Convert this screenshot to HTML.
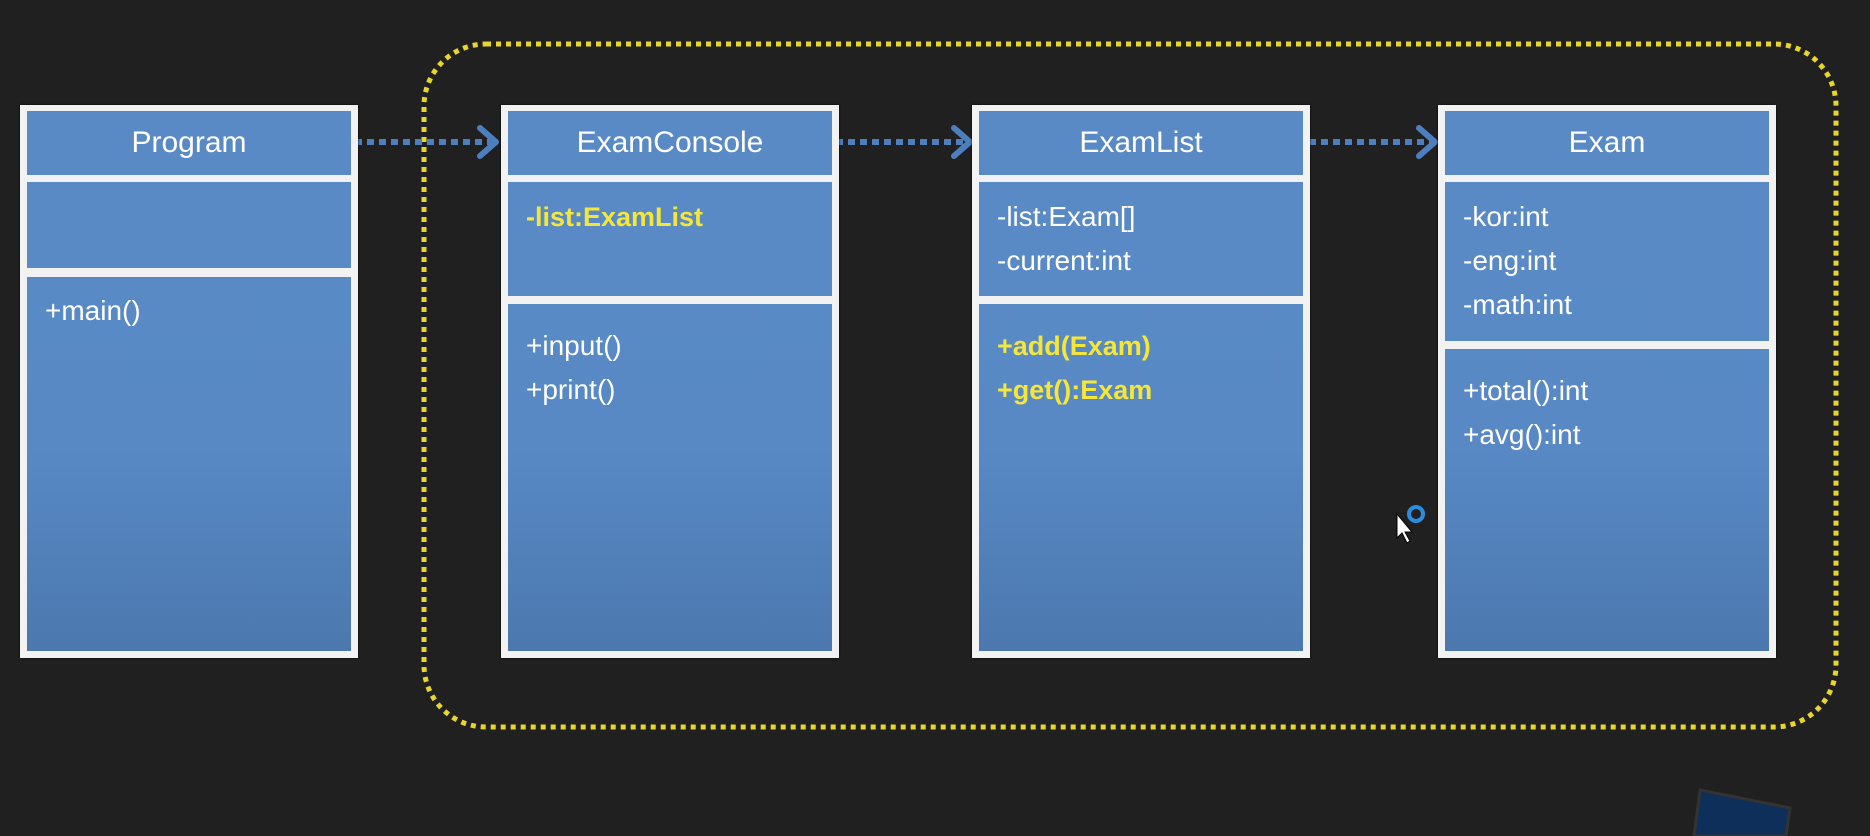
<!DOCTYPE html>
<html><head><meta charset="utf-8"><style>
body{margin:0;width:1870px;height:836px;background:#202020;overflow:hidden;position:relative;font-family:"Liberation Sans",sans-serif}
.box{position:absolute;top:105px;height:553px;width:338px;background:#f2f2f2;box-shadow:0 0 2px #000}
.sec{position:absolute;left:7px;right:7px;background:linear-gradient(#5a8bc7 0px,#5889c5 450px,#4b77ad 660px) fixed}
.t{position:absolute;color:#fff;font-size:28px;white-space:nowrap;line-height:44px}
.y{color:#f5e63a;font-weight:bold;font-size:27px}
.h{left:0;right:0;text-align:center;font-size:30px;top:10px}
</style></head><body>
<svg width="1870" height="836" style="position:absolute;left:0;top:0">
<rect x="424" y="44" width="1412" height="683" rx="62" fill="none" stroke="#e8d62a" stroke-width="5" stroke-dasharray="5 5"/>
<g stroke="#4d7fbf" stroke-width="6" fill="none">
<line x1="355" y1="142" x2="494" y2="142" stroke-dasharray="7 5"/>
<line x1="836" y1="142" x2="968" y2="142" stroke-dasharray="7 5"/>
<line x1="1309" y1="142" x2="1433" y2="142" stroke-dasharray="7 5"/>
<polyline points="480,128 496,142 480,156" stroke-linejoin="round" stroke-linecap="round"/>
<polyline points="954,128 970,142 954,156" stroke-linejoin="round" stroke-linecap="round"/>
<polyline points="1419,128 1435,142 1419,156" stroke-linejoin="round" stroke-linecap="round"/>
</g>
<circle cx="1416" cy="514" r="7" fill="none" stroke="#2a8de0" stroke-width="4"/>
<path d="M1397 514 l0 24 l5 -5 l5 10 l3 -2 l-5 -9 l7 0 z" fill="#fff" stroke="#000"/>
<polygon points="1700,790 1790,808 1786,836 1694,836" fill="#0d2f5a" stroke="#333" stroke-width="3"/>
</svg>

<div class="box" style="left:20px">
<div class="sec" style="top:6px;height:64px"><div class="t h">Program</div></div>
<div class="sec" style="top:77px;height:86px"></div>
<div class="sec" style="top:172px;bottom:7px"><div class="t" style="left:18px;top:12px">+main()</div></div>
</div>

<div class="box" style="left:501px">
<div class="sec" style="top:6px;height:64px"><div class="t h">ExamConsole</div></div>
<div class="sec" style="top:77px;height:114px"><div class="t y" style="left:18px;top:13px">-list:ExamList</div></div>
<div class="sec" style="top:199px;bottom:7px"><div class="t" style="left:18px;top:20px">+input()<br>+print()</div></div>
</div>

<div class="box" style="left:972px">
<div class="sec" style="top:6px;height:64px"><div class="t h">ExamList</div></div>
<div class="sec" style="top:77px;height:114px"><div class="t" style="left:18px;top:13px">-list:Exam[]<br>-current:int</div></div>
<div class="sec" style="top:199px;bottom:7px"><div class="t y" style="left:18px;top:20px">+add(Exam)<br>+get():Exam</div></div>
</div>

<div class="box" style="left:1438px">
<div class="sec" style="top:6px;height:64px"><div class="t h">Exam</div></div>
<div class="sec" style="top:77px;height:159px"><div class="t" style="left:18px;top:13px">-kor:int<br>-eng:int<br>-math:int</div></div>
<div class="sec" style="top:244px;bottom:7px"><div class="t" style="left:18px;top:20px">+total():int<br>+avg():int</div></div>
</div>
</body></html>
